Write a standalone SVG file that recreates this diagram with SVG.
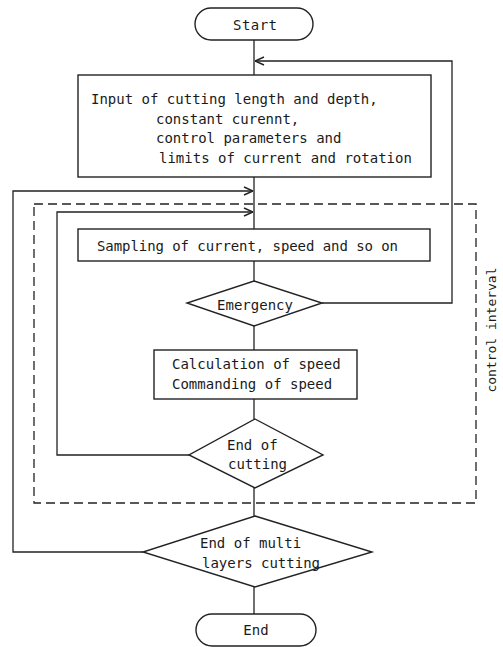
<svg xmlns="http://www.w3.org/2000/svg" width="503" height="647" viewBox="0 0 503 647">
  <style>
    .shape { fill: #fff; stroke: #222; stroke-width: 1.4; }
    .wire { fill: none; stroke: #222; stroke-width: 1.3; }
    .dash { fill: none; stroke: #222; stroke-width: 1.3; stroke-dasharray: 9 5; }
    text { font-family: "DejaVu Sans Mono", "Liberation Mono", monospace; font-size: 14px; fill: #1a1a1a; }
    .side { font-size: 13px; }
  </style>
  <defs>
    <marker id="arrow" viewBox="0 0 10 10" refX="10" refY="5" markerWidth="10" markerHeight="10" markerUnits="userSpaceOnUse" orient="auto">
      <path d="M1,1 L10,5 L1,9" fill="none" stroke="#222" stroke-width="1.4"/>
    </marker>
  </defs>
  <rect width="503" height="647" fill="#fff"/>

  <!-- control interval boundary -->
  <g id="control-interval">
    <rect class="dash" x="34" y="204" width="442" height="299"/>
    <text class="side" x="0" y="0" transform="translate(496,330) rotate(-90)" text-anchor="middle" textLength="125">control interval</text>
  </g>

  <!-- connectors -->
  <g id="connectors">
    <line class="wire" x1="254" y1="40" x2="254" y2="75"/>
    <polyline class="wire" points="322,303 452,303 452,61 255,61" marker-end="url(#arrow)"/>
    <line class="wire" x1="254" y1="177" x2="254" y2="229"/>
    <polyline class="wire" points="143,552 13,552 13,191 253,191" marker-end="url(#arrow)"/>
    <polyline class="wire" points="189,455 57,455 57,212 253,212" marker-end="url(#arrow)"/>
    <line class="wire" x1="254" y1="261" x2="254" y2="281"/>
    <line class="wire" x1="254" y1="326" x2="254" y2="350"/>
    <line class="wire" x1="254" y1="399" x2="254" y2="419"/>
    <line class="wire" x1="254" y1="488" x2="254" y2="516"/>
    <line class="wire" x1="254" y1="587" x2="254" y2="614"/>
  </g>

  <g id="start">
    <rect class="shape" x="195" y="8" width="118" height="32" rx="16" ry="16"/>
    <text x="255" y="30" text-anchor="middle" textLength="44">Start</text>
  </g>

  <g id="input">
    <rect class="shape" x="78" y="75" width="353" height="102"/>
    <text x="91" y="104">Input of cutting length and depth,</text>
    <text x="156" y="124">constant curennt,</text>
    <text x="156" y="143">control parameters and</text>
    <text x="159" y="163">limits of current and rotation</text>
  </g>

  <g id="sampling">
    <rect class="shape" x="78" y="229" width="352" height="32"/>
    <text x="97" y="251" textLength="301">Sampling of current, speed and so on</text>
  </g>

  <g id="emergency">
    <polygon class="shape" points="254,281 322,303 254,326 187,303"/>
    <text x="255" y="310" text-anchor="middle">Emergency</text>
  </g>

  <g id="calculation">
    <rect class="shape" x="154" y="350" width="203" height="49"/>
    <text x="172" y="369">Calculation of speed</text>
    <text x="172" y="389">Commanding of speed</text>
  </g>

  <g id="end-of-cutting">
    <polygon class="shape" points="255,419 323,455 255,488 189,455"/>
    <text x="227" y="450">End of</text>
    <text x="228" y="469">cutting</text>
  </g>

  <g id="end-of-multi">
    <polygon class="shape" points="255,516 372,552 255,587 143,552"/>
    <text x="200" y="548">End of multi</text>
    <text x="202" y="568">layers cutting</text>
  </g>

  <g id="end">
    <rect class="shape" x="196" y="614" width="120" height="32" rx="16" ry="16"/>
    <text x="256" y="635" text-anchor="middle">End</text>
  </g>
</svg>
